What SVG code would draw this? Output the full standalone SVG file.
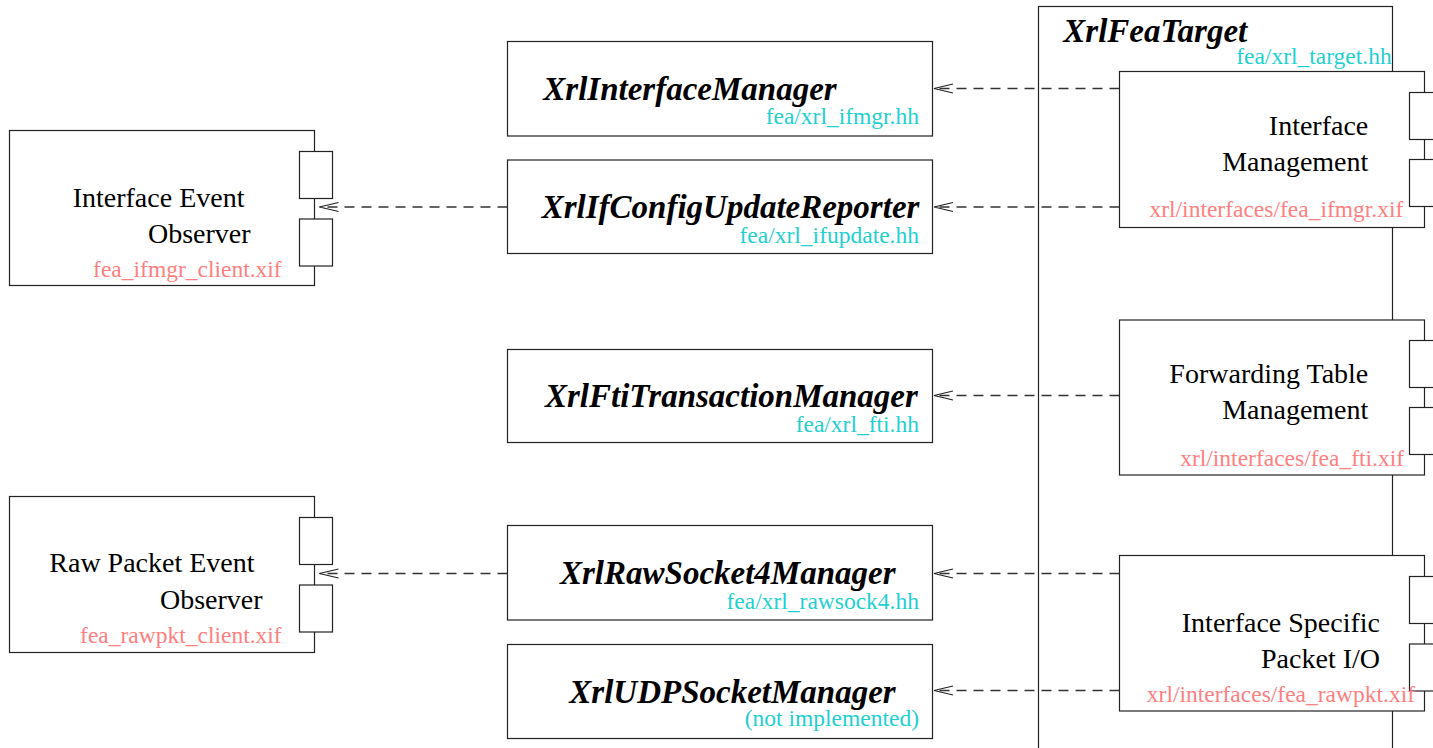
<svg xmlns="http://www.w3.org/2000/svg" width="1433" height="748" viewBox="0 0 1433 748">
<style>
.box{fill:#fff;stroke:#222;stroke-width:1.2}
.port{fill:#fff;stroke:#222;stroke-width:1.2}
.dash{fill:none;stroke:#333;stroke-width:1.3;stroke-dasharray:10 7}
.cls{font-family:"Liberation Serif","Times New Roman",serif;font-weight:bold;font-style:italic;font-size:33px;fill:#000}
.lbl{font-family:"Liberation Serif","Times New Roman",serif;font-size:28px;fill:#000}
.hh{font-family:"Liberation Serif","Times New Roman",serif;font-size:23.5px;fill:#1fd0d0;text-anchor:end}
.xif{font-family:"Liberation Serif","Times New Roman",serif;font-size:23.5px;fill:#ff8080;text-anchor:end}
.end{text-anchor:end}
</style>
<defs>
<marker id="open" markerUnits="userSpaceOnUse" markerWidth="30" markerHeight="20" refX="0" refY="0" orient="auto" overflow="visible">
<path d="M-19,-4.5 L0,0 L-19,4.5" fill="none" stroke="#222" stroke-width="1.2"/>
</marker>
</defs>
<rect width="1433" height="748" fill="#fff"/>

<g id="interface-event-observer">
<rect class="box" x="9.5" y="130.5" width="305" height="155"/>
<rect class="port" x="299.5" y="151.5" width="33" height="47"/>
<rect class="port" x="299.5" y="219" width="33" height="47"/>
<text class="lbl" x="72.7" y="207">Interface Event</text>
<text class="lbl" x="148" y="242.7">Observer</text>
<text class="xif" x="281.7" y="276.7">fea_ifmgr_client.xif</text>
</g>

<g id="raw-packet-event-observer">
<rect class="box" x="9.5" y="496.5" width="305" height="156"/>
<rect class="port" x="299.5" y="517.5" width="33" height="47"/>
<rect class="port" x="299.5" y="585" width="33" height="47"/>
<text class="lbl" x="49.3" y="572.3">Raw Packet Event</text>
<text class="lbl" x="160" y="609">Observer</text>
<text class="xif" x="281.7" y="643.3">fea_rawpkt_client.xif</text>
</g>

<g id="xrl-interface-manager">
<rect class="box" x="507.5" y="41.5" width="425" height="94.5"/>
<text class="cls" x="543.3" y="100">XrlInterfaceManager</text>
<text class="hh" x="919" y="124">fea/xrl_ifmgr.hh</text>
</g>

<g id="xrl-ifconfig-update-reporter">
<rect class="box" x="507.5" y="160" width="425" height="93.5"/>
<text class="cls" x="541.7" y="218">XrlIfConfigUpdateReporter</text>
<text class="hh" x="919" y="243">fea/xrl_ifupdate.hh</text>
</g>

<g id="xrl-fti-transaction-manager">
<rect class="box" x="507.5" y="349.5" width="425" height="93"/>
<text class="cls" x="545" y="406.5">XrlFtiTransactionManager</text>
<text class="hh" x="919" y="431.5">fea/xrl_fti.hh</text>
</g>

<g id="xrl-rawsocket4-manager">
<rect class="box" x="507.5" y="525.5" width="425" height="94.5"/>
<text class="cls" x="560" y="584">XrlRawSocket4Manager</text>
<text class="hh" x="919" y="608.5">fea/xrl_rawsock4.hh</text>
</g>

<g id="xrl-udpsocket-manager">
<rect class="box" x="507.5" y="644.5" width="425" height="94"/>
<text class="cls" x="569.3" y="702.5">XrlUDPSocketManager</text>
<text class="hh" x="919" y="725.5">(not implemented)</text>
</g>

<g id="xrl-fea-target">
<rect class="box" x="1038.5" y="6.5" width="354" height="800"/>
<text class="cls" x="1063.3" y="41.7">XrlFeaTarget</text>
<text class="hh" x="1391.7" y="64">fea/xrl_target.hh</text>
</g>

<g id="interface-management">
<rect class="box" x="1119.5" y="71.5" width="305" height="156"/>
<rect class="port" x="1409.5" y="92.5" width="33" height="47"/>
<rect class="port" x="1409.5" y="159.5" width="33" height="47"/>
<text class="lbl end" x="1368.3" y="135">Interface</text>
<text class="lbl end" x="1368.3" y="170.7">Management</text>
<text class="xif" x="1403.3" y="216.7">xrl/interfaces/fea_ifmgr.xif</text>
</g>

<g id="forwarding-table-management">
<rect class="box" x="1119.5" y="320" width="305" height="155"/>
<rect class="port" x="1409.5" y="340.5" width="33" height="47"/>
<rect class="port" x="1409.5" y="407.5" width="33" height="47"/>
<text class="lbl end" x="1368.3" y="383.3">Forwarding Table</text>
<text class="lbl end" x="1368.3" y="419">Management</text>
<text class="xif" x="1404" y="465.7">xrl/interfaces/fea_fti.xif</text>
</g>

<g id="interface-specific-packet-io">
<rect class="box" x="1119.5" y="555.5" width="305" height="155.5"/>
<rect class="port" x="1409.5" y="576.5" width="33" height="47"/>
<rect class="port" x="1409.5" y="644" width="33" height="47"/>
<text class="lbl end" x="1380" y="631.7">Interface Specific</text>
<text class="lbl end" x="1380" y="667.7">Packet I/O</text>
<text class="xif" x="1415" y="702.3">xrl/interfaces/fea_rawpkt.xif</text>
</g>

<g id="connectors">
<line class="dash" x1="1119.5" y1="88.5" x2="934" y2="88.5" marker-end="url(#open)"/>
<line class="dash" x1="1119.5" y1="207" x2="934" y2="207" marker-end="url(#open)"/>
<line class="dash" x1="1119.5" y1="395.5" x2="934" y2="395.5" marker-end="url(#open)"/>
<line class="dash" x1="1119.5" y1="573.5" x2="934" y2="573.5" marker-end="url(#open)"/>
<line class="dash" x1="1119.5" y1="690.5" x2="934" y2="690.5" marker-end="url(#open)"/>
<line class="dash" x1="507.5" y1="207" x2="319.5" y2="207" marker-end="url(#open)"/>
<line class="dash" x1="507.5" y1="573.5" x2="319.5" y2="573.5" marker-end="url(#open)"/>
</g>
</svg>
